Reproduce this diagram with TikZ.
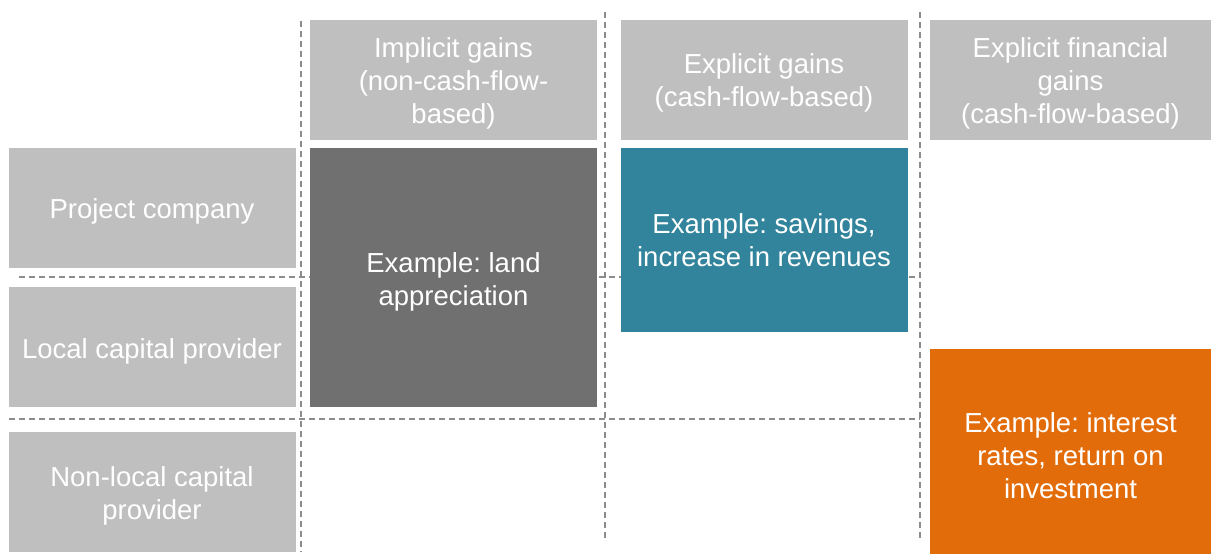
\documentclass[tikz,border=0pt]{standalone}
\usepackage{fontspec}
\setmainfont{Liberation Sans}
\frenchspacing
\definecolor{lightbox}{HTML}{BFBFBF}
\definecolor{darkbox}{HTML}{707070}
\definecolor{tealbox}{HTML}{31849B}
\definecolor{orangebox}{HTML}{E36C0A}
\definecolor{dashgray}{HTML}{8C8C8C}
\tikzset{
  cell/.style={rectangle, inner sep=0pt, outer sep=0pt},
  celltext/.style={inner sep=0pt, text=white, align=center,
    font=\fontsize{27.5}{33}\selectfont},
  guide/.style={draw=dashgray, line width=1.3pt, dash pattern=on 6pt off 4pt},
}
\begin{document}
\frenchspacing
\begin{tikzpicture}[x=1pt,y=-1pt]
\useasboundingbox (0,0) rectangle (1211,554);
% guide line end points
\coordinate (v1t) at (301,21);  \coordinate (v1b) at (301,552);
\coordinate (v2t) at (605,12);  \coordinate (v2b) at (605,540);
\coordinate (v3t) at (920,12);  \coordinate (v3b) at (920,540);
\coordinate (h1l) at (19,277);  \coordinate (h1r) at (920,277);
\coordinate (h2l) at (9,419);   \coordinate (h2r) at (920,419);
\draw[guide] (v1t) -- (v1b);
\draw[guide] (v2t) -- (v2b);
\draw[guide] (v3t) -- (v3b);
\draw[guide] (h1l) -- (h1r);
\draw[guide] (h2l) -- (h2r);
% column headers
\node[cell, fill=lightbox, minimum width=287pt, minimum height=120pt] (hdrA) at (453.5,80) {};
\node[cell, fill=lightbox, minimum width=287pt, minimum height=120pt] (hdrB) at (764,80) {};
\node[cell, fill=lightbox, minimum width=281pt, minimum height=120pt] (hdrC) at (1070.5,80) {};
\node[celltext] (hdrAt) at ([yshift=-3pt]hdrA.center) {Implicit gains\\(non-cash-flow-\\based)};
\node[celltext] (hdrBt) at ([yshift=-3pt]hdrB.center) {Explicit gains\\(cash-flow-based)};
\node[celltext] (hdrCt) at ([yshift=-3pt]hdrC.center) {Explicit financial\\gains\\(cash-flow-based)};
% row headers
\node[cell, fill=lightbox, minimum width=287pt, minimum height=120pt] (rowA) at (152,208) {};
\node[cell, fill=lightbox, minimum width=287pt, minimum height=120pt] (rowB) at (152,347) {};
\node[cell, fill=lightbox, minimum width=287pt, minimum height=120pt] (rowC) at (152,492) {};
\node[celltext] (rowAt) at ([yshift=-3pt]rowA.center) {Project company};
\node[celltext] (rowBt) at ([yshift=-4pt]rowB.center) {Local capital provider};
\node[celltext] (rowCt) at ([yshift=-4pt]rowC.center) {Non-local capital\\provider};
% example boxes
\node[cell, fill=darkbox, minimum width=287pt, minimum height=259pt] (exA) at (453.5,277.5) {};
\node[cell, fill=tealbox, minimum width=287pt, minimum height=183.5pt] (exB) at (764,240) {};
\node[cell, fill=orangebox, minimum width=281pt, minimum height=213pt] (exC) at (1070.5,455.5) {};
\node[celltext] (exAt) at ([yshift=-4pt]exA.center) {Example: land\\appreciation};
\node[celltext] (exBt) at ([yshift=-0.5pt]exB.center) {Example: savings,\\increase in revenues};
\node[celltext] (exCt) at (exC.center) {Example: interest\\rates, return on\\investment};
\end{tikzpicture}
\end{document}
